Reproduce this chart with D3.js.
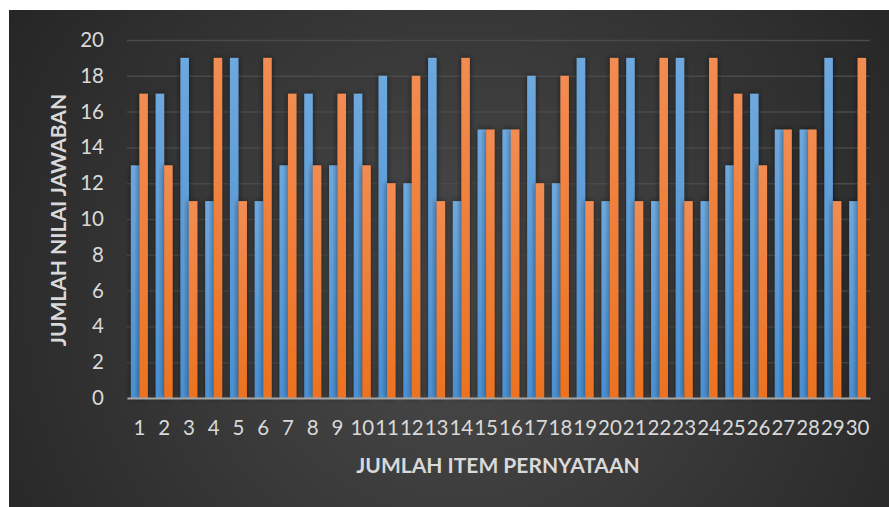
<!DOCTYPE html>
<html><head><meta charset="utf-8">
<script src="https://cdn.jsdelivr.net/npm/d3@7"></script>
<style>
html,body{margin:0;padding:0;background:#fff;}
svg{display:block;}
</style></head>
<body>
<script>
const categories = ["1","2","3","4","5","6","7","8","9","10","11","12","13","14","15","16","17","18","19","20","21","22","23","24","25","26","27","28","29","30"];
const seriesA = [13,17,19,11,19,11,13,17,13,17,18,12,19,11,15,15,18,12,19,11,19,11,19,11,13,17,15,15,19,11];
const seriesB = [17,13,11,19,11,19,17,13,17,13,12,18,11,19,15,15,12,18,11,19,11,19,11,19,17,13,15,15,11,19];
const yTicks = [0,2,4,6,8,10,12,14,16,18,20];
const xTitle = "JUMLAH ITEM PERNYATAAN";
const yTitle = "JUMLAH NILAI JAWABAN";

const W = 889, H = 507;
const svg = d3.select("body").append("svg").attr("width", W).attr("height", H);
const defs = svg.append("defs");

const bg = defs.append("radialGradient").attr("id","bg").attr("gradientUnits","userSpaceOnUse")
  .attr("cx",460).attr("cy",300).attr("r",560);
bg.append("stop").attr("offset","0").attr("stop-color","#4b4b4b");
bg.append("stop").attr("offset","1").attr("stop-color","#242424");

function barGrad(id, c0, c1){
  const g = defs.append("linearGradient").attr("id",id).attr("x1",0).attr("y1",0).attr("x2",0).attr("y2",1);
  g.append("stop").attr("offset","0").attr("stop-color",c0);
  g.append("stop").attr("offset","1").attr("stop-color",c1);
}
barGrad("gA","#6da8de","#4a8fd1");
barGrad("gB","#f28c52","#ec7220");

const sh = defs.append("filter").attr("id","sh").attr("x","-50%").attr("y","-10%").attr("width","200%").attr("height","120%");
sh.append("feDropShadow").attr("dx",0).attr("dy",0).attr("stdDeviation",3).attr("flood-color","#000").attr("flood-opacity",0.55);

svg.append("rect").attr("x",9).attr("y",10).attr("width",W-9).attr("height",H-10).attr("fill","url(#bg)");

const pLeft = 127, pRight = 870, pTop = 40, pBottom = 398;
const x0 = d3.scaleBand().domain(categories).range([pLeft,pRight]).padding(0);
const x1 = d3.scaleBand().domain(["A","B"]).range([3.9, x0.bandwidth()-3.9]).padding(0);
const y = d3.scaleLinear().domain([0,20]).range([pBottom, pTop]);

const font = "Lato, 'Open Sans', sans-serif";

// gridlines
const yAxis = d3.axisLeft(y).tickValues(yTicks).tickSize(-(pRight-pLeft)).tickFormat(d=>d).tickPadding(23);
const gy = svg.append("g").attr("transform",`translate(${pLeft},0)`).call(yAxis);
gy.select(".domain").remove();
gy.selectAll(".tick line").attr("stroke","#4a4a4a").attr("stroke-width",1.5);
gy.selectAll(".tick text").attr("fill","#d9d9d9").style("font-family",font).style("font-size","20.5px");

// bars
const groups = svg.append("g").selectAll("g").data(categories).join("g")
  .attr("transform", d=>`translate(${x0(d)},0)`);
groups.append("rect").attr("x",x1("A")).attr("width",x1.bandwidth())
  .attr("y",(d,i)=>y(seriesA[i])).attr("height",(d,i)=>y(0)-y(seriesA[i]))
  .attr("fill","url(#gA)").attr("filter","url(#sh)");
groups.append("rect").attr("x",x1("B")).attr("width",x1.bandwidth())
  .attr("y",(d,i)=>y(seriesB[i])).attr("height",(d,i)=>y(0)-y(seriesB[i]))
  .attr("fill","url(#gB)").attr("filter","url(#sh)");

// x axis
const xAxis = d3.axisBottom(x0).tickSize(0).tickPadding(22);
const gx = svg.append("g").attr("transform",`translate(0,${pBottom})`).call(xAxis);
gx.select(".domain").attr("stroke","#a6a6a6").attr("stroke-width",2);
gx.selectAll(".tick text").attr("fill","#d9d9d9").style("font-family",font).style("font-size","20.5px");

// titles
svg.append("text").attr("x",498).attr("y",473).attr("text-anchor","middle")
  .attr("fill","#d9d9d9").style("font-family",font).style("font-weight","bold").style("font-size","21px")
  .text(xTitle);
svg.append("text").attr("transform","translate(66,220) rotate(-90)").attr("text-anchor","middle")
  .attr("fill","#d9d9d9").style("font-family",font).style("font-weight","bold").style("font-size","21px")
  .text(yTitle);
</script>
</body></html>
